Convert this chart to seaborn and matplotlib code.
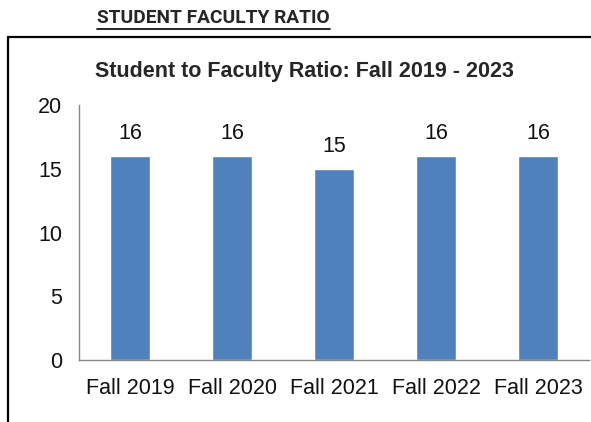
import matplotlib
matplotlib.use("Agg")
import matplotlib.pyplot as plt
from matplotlib.lines import Line2D
import seaborn as sns

# data
terms = ["Fall 2019", "Fall 2020", "Fall 2021", "Fall 2022", "Fall 2023"]
ratios = [16, 16, 15, 16, 16]
y_ticks = [0, 5, 10, 15, 20]

sns.set_style("white")
plt.rcParams['font.family'] = ['Liberation Sans', 'DejaVu Sans']

fig = plt.figure(figsize=(5.91, 4.22), dpi=100)
ax = fig.add_axes([79 / 591, 1 - 360 / 422, 510 / 591, 255 / 422])

sns.barplot(x=terms, y=ratios, color="#4F81BD", width=0.39, saturation=1, ax=ax)

for i, v in enumerate(ratios):
    ax.annotate(str(v), (i, v), xytext=(0, 12), textcoords="offset points",
                ha="center", va="baseline", fontsize=15.5, color="#111111")

ax.set_ylim(0, 20)
ax.set_xlim(-0.5, 4.5)
ax.set_yticks(y_ticks)
ax.set_yticklabels([str(t) for t in y_ticks], fontsize=15.5)
ax.tick_params(axis="y", length=4, width=1, color="#868686", pad=8, labelcolor="#111111")
ax.tick_params(axis="x", which="major", length=0, pad=13, labelsize=15.5, labelcolor="#111111")
ax.set_xticks([i - 0.5 for i in range(len(terms) + 1)], minor=True)
ax.tick_params(axis="x", which="minor", length=5, width=1, color="#868686")

for side in ["top", "right"]:
    ax.spines[side].set_visible(False)
for side in ["left", "bottom"]:
    ax.spines[side].set_color("#868686")
    ax.spines[side].set_linewidth(1)

# chart title and page heading
fig.text(304 / 591, 1 - 71 / 422, "Student to Faculty Ratio: Fall 2019 - 2023",
         ha="center", va="center", fontsize=15.5, fontweight="bold")
head = fig.text(97 / 591, 1 - 18 / 422, "STUDENT FACULTY RATIO", ha="left", va="center",
                fontsize=13.8, fontweight="bold", family=["Roboto", "DejaVu Sans"])

# underline the heading to its own width
fig.canvas.draw()
bb = head.get_window_extent().transformed(fig.transFigure.inverted())
fig.add_artist(Line2D([bb.x0, bb.x1], [1 - 29 / 422] * 2, color="black", lw=1.2))

# frame around the chart
fig.add_artist(Line2D([8 / 591, 8 / 591], [0, 1 - 37 / 422], color="black", lw=1.6))
fig.add_artist(Line2D([8 / 591, 1], [1 - 37 / 422] * 2, color="black", lw=1.6))

fig.savefig("out.png", dpi=100)
